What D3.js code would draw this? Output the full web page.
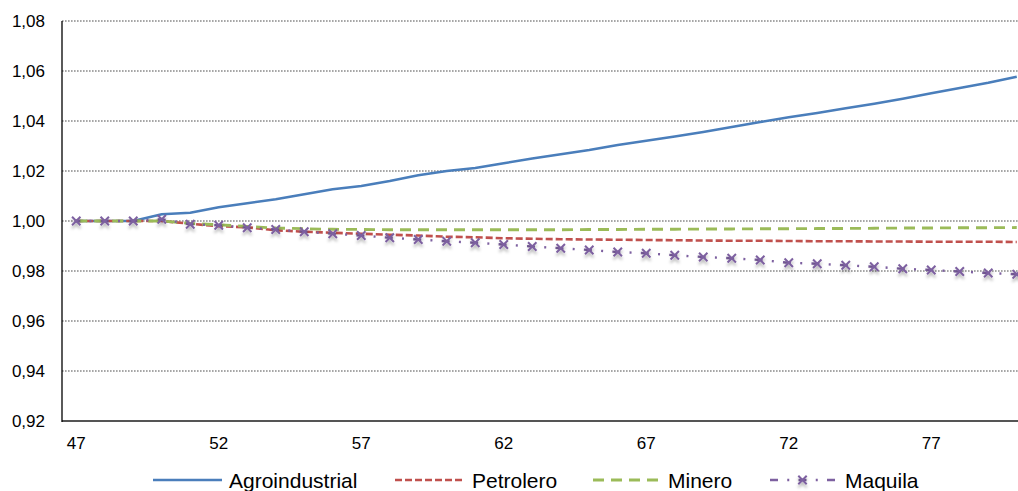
<!DOCTYPE html>
<html>
<head>
<meta charset="utf-8">
<script src="https://cdn.jsdelivr.net/npm/d3@7"></script>
<style>
  html, body { margin: 0; padding: 0; background: #fff; }
  svg { display: block; font-family: "Liberation Sans", Arial, sans-serif; }
</style>
</head>
<body>
<svg id="chart" width="1018" height="491"></svg>
<script>
// Periods 47..80
const periods = d3.range(47, 81);
const xTickLabels = [47, 52, 57, 62, 67, 72, 77];
const yTickValues = [0.92, 0.94, 0.96, 0.98, 1.00, 1.02, 1.04, 1.06, 1.08];

const agroindustrial = [1.0000, 1.0000, 1.0000, 1.0027, 1.0033, 1.0055, 1.0071, 1.0087, 1.0107, 1.0127,
  1.0140, 1.0160, 1.0183, 1.0200, 1.0212, 1.0231, 1.0250, 1.0267, 1.0284, 1.0304,
  1.0321, 1.0338, 1.0356, 1.0376, 1.0396, 1.0415, 1.0432, 1.0451, 1.0469, 1.0489,
  1.0511, 1.0532, 1.0553, 1.0577];
const petrolero = [1.0000, 1.0000, 1.0000, 1.0000, 0.9989, 0.9979, 0.9975, 0.9963, 0.9957, 0.9953,
  0.9949, 0.9945, 0.9942, 0.9937, 0.9935, 0.9931, 0.9929, 0.9927, 0.9926, 0.9925,
  0.9924, 0.9923, 0.9922, 0.9921, 0.9921, 0.9920, 0.9919, 0.9919, 0.9918, 0.9918,
  0.9917, 0.9917, 0.9917, 0.9916];
const minero = [1.0000, 1.0000, 1.0000, 1.0000, 0.9990, 0.9985, 0.9978, 0.9972, 0.9969, 0.9967,
  0.9966, 0.9965, 0.9965, 0.9965, 0.9965, 0.9965, 0.9965, 0.9965, 0.9966, 0.9966,
  0.9967, 0.9967, 0.9968, 0.9968, 0.9969, 0.9969, 0.9970, 0.9970, 0.9971, 0.9972,
  0.9972, 0.9973, 0.9973, 0.9974];
const maquila = [1.0000, 1.0000, 1.0000, 1.0007, 0.9987, 0.9983, 0.9973, 0.9966, 0.9957, 0.9949,
  0.9942, 0.9933, 0.9926, 0.9919, 0.9913, 0.9906, 0.9898, 0.9891, 0.9884, 0.9876,
  0.9871, 0.9863, 0.9856, 0.9851, 0.9844, 0.9833, 0.9829, 0.9823, 0.9817, 0.9809,
  0.9804, 0.9798, 0.9792, 0.9787];

const seriesNames = ["Agroindustrial", "Petrolero", "Minero", "Maquila"];
const seriesValues = [agroindustrial, petrolero, minero, maquila];

const styles = {
  Agroindustrial: { color: "#4a7ebb", width: 2.6, dash: null, offset: 0 },
  Petrolero:      { color: "#c0504d", width: 2.6, dash: "7,3", offset: 0 },
  Minero:         { color: "#9bbb59", width: 2.8, dash: "11,7", offset: 0 },
  Maquila:        { color: "#7d60a0", width: 2.4, dash: "8,9.25,2,9.25", offset: 4 }
};

const svg = d3.select("#chart");
const plotLeft = 62, plotTop = 21, plotBottom = 421, bandStep = 28.5;

const x = d3.scaleBand()
  .domain(periods)
  .range([plotLeft, plotLeft + bandStep * periods.length])
  .paddingInner(0).paddingOuter(0);
const cx = d => x(d) + x.bandwidth() / 2;

const y = d3.scaleLinear().domain([0.92, 1.08]).range([plotBottom, plotTop]);

const locale = d3.formatLocale({ decimal: ",", thousands: ".", grouping: [3], currency: ["", ""] });
const fmt = locale.format(".2f");

// soft shadow under the markers
const defs = svg.append("defs");
const f = defs.append("filter").attr("id", "mkShadow")
  .attr("x", "-50%").attr("y", "-50%").attr("width", "200%").attr("height", "250%");
f.append("feDropShadow").attr("dx", 0).attr("dy", 3).attr("stdDeviation", 1.6)
  .attr("flood-color", "#000").attr("flood-opacity", 0.3);

// gridlines
svg.append("g").selectAll("line")
  .data(yTickValues.filter(v => v > 0.921))
  .join("line")
  .attr("x1", plotLeft).attr("x2", 1018)
  .attr("y1", d => y(d)).attr("y2", d => y(d))
  .attr("stroke", "#8a8a8a").attr("stroke-width", 1.3)
  .attr("stroke-dasharray", "1.6,1.4");

// y axis labels
const yAxis = d3.axisLeft(y).tickValues(yTickValues).tickFormat(fmt).tickSize(0).tickPadding(17);
const gy = svg.append("g").attr("transform", `translate(${plotLeft},0)`).call(yAxis);
gy.select(".domain").remove();
gy.selectAll("text").attr("font-size", 17).attr("fill", "#000")
  .attr("font-family", "'Liberation Sans', Arial, sans-serif");

// x axis labels
const xAxis = d3.axisBottom(x).tickValues(xTickLabels).tickSize(0).tickPadding(16);
const gx = svg.append("g").attr("transform", `translate(0,${plotBottom})`).call(xAxis);
gx.select(".domain").remove();
gx.selectAll("text").attr("font-size", 17).attr("fill", "#000")
  .attr("font-family", "'Liberation Sans', Arial, sans-serif");

// axis lines
svg.append("line").attr("x1", plotLeft).attr("x2", 1018).attr("y1", plotBottom).attr("y2", plotBottom)
  .attr("stroke", "#555").attr("stroke-width", 2);
svg.append("line").attr("x1", plotLeft).attr("x2", plotLeft).attr("y1", plotTop).attr("y2", plotBottom + 1)
  .attr("stroke", "#000").attr("stroke-width", 1.3);

// series lines
const line = d3.line().x((d, i) => cx(periods[i])).y(d => y(d));
seriesNames.forEach((name, k) => {
  const vals = seriesValues[k];
  const s = styles[name];
  svg.append("path").datum(vals)
    .attr("d", line)
    .attr("fill", "none")
    .attr("stroke", s.color)
    .attr("stroke-width", s.width)
    .attr("stroke-dasharray", s.dash)
    .attr("stroke-dashoffset", s.offset)
    .attr("stroke-linejoin", "round");
});

// Maquila markers
const mk = 4.2;
const xMarker = `M${-mk},${-mk}L${mk},${mk}M${-mk},${mk}L${mk},${-mk}`;
svg.append("g").attr("filter", "url(#mkShadow)")
  .selectAll("path").data(maquila).join("path")
  .attr("transform", (d, i) => `translate(${cx(periods[i])},${y(d)})`)
  .attr("d", xMarker)
  .attr("stroke", styles.Maquila.color).attr("stroke-width", 2).attr("fill", "none");

// legend
const legendItems = [
  { name: "Agroindustrial", x0: 153, x1: 222, tx: 229 },
  { name: "Petrolero", x0: 395, x1: 463, tx: 472 },
  { name: "Minero", x0: 593, x1: 660, tx: 668 },
  { name: "Maquila", x0: 770, x1: 837, tx: 845 }
];
const lg = svg.append("g");
const ly = 480;
legendItems.forEach(it => {
  const s = styles[it.name];
  lg.append("line").attr("x1", it.x0).attr("x2", it.x1).attr("y1", ly).attr("y2", ly)
    .attr("stroke", s.color).attr("stroke-width", s.width)
    .attr("stroke-dasharray", s.dash).attr("stroke-dashoffset", 0);
  if (it.name === "Maquila") {
    lg.append("path").attr("transform", `translate(${it.x0 + 32.5},${ly})`)
      .attr("d", xMarker).attr("stroke", s.color).attr("stroke-width", 2)
      .attr("fill", "none").attr("filter", "url(#mkShadow)");
  }
  lg.append("text").attr("x", it.tx).attr("y", ly).attr("dy", "0.36em")
    .attr("font-size", 21).attr("fill", "#000").text(it.name);
});
</script>
</body>
</html>
